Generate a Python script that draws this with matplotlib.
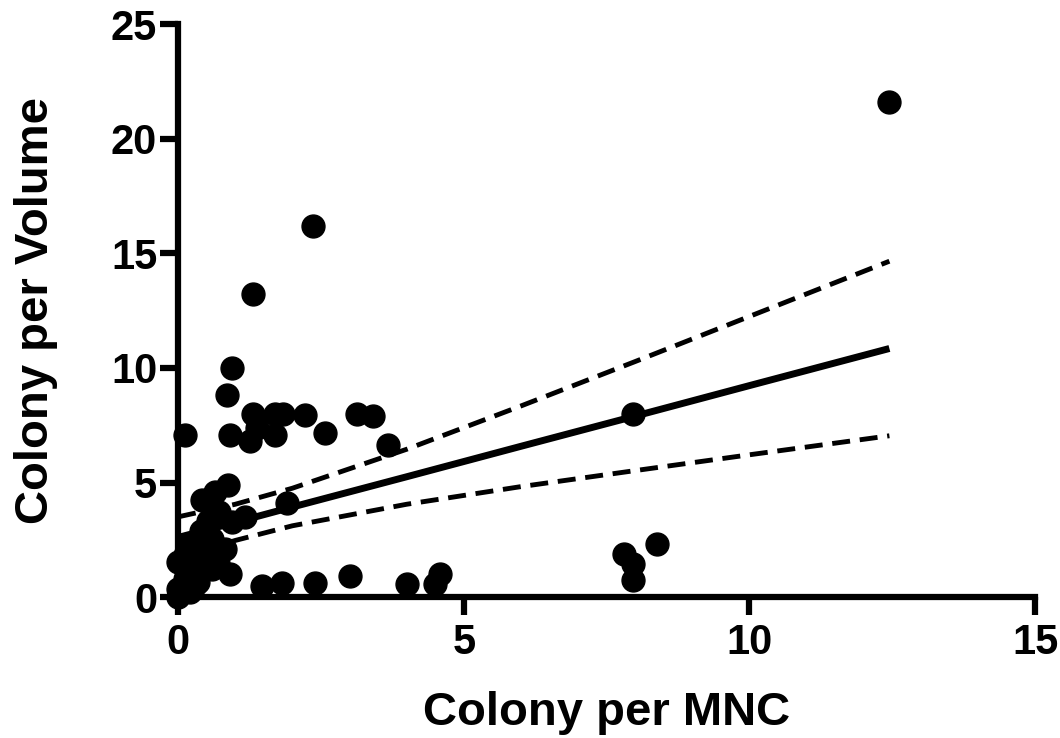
import numpy as np
import matplotlib
matplotlib.use("Agg")
import matplotlib.pyplot as plt

colony_per_mnc = [12.45, 2.37, 1.32, 0.94, 0.85, 1.32, 1.70, 1.84, 2.22, 3.13, 3.42,
                  0.12, 0.91, 1.26, 1.38, 1.70, 2.57, 3.68, 7.97, 7.80, 7.97, 7.97,
                  8.38, 0.88, 0.65, 0.41, 0.71, 1.17, 1.90, 0.36, 0.59, 0.82, 0.47,
                  0.12, 0.00, 0.59, 0.91, 0.12, 0.30, 0.00, 0.00, 0.35, 0.94, 0.53,
                  0.18, 0.70, 1.47, 1.82, 2.40, 3.01, 4.00, 4.50, 4.59, 0.25, 0.40, 0.20]
colony_per_volume = [21.6, 16.2, 13.25, 10.0, 8.8, 8.0, 8.0, 8.0, 7.96, 8.0, 7.9,
                     7.08, 7.08, 6.8, 7.4, 7.08, 7.15, 6.64, 7.97, 1.90, 1.46, 0.73,
                     2.33, 4.89, 4.6, 4.23, 3.72, 3.5, 4.09, 2.55, 2.55, 2.11, 1.82,
                     1.82, 1.53, 1.24, 1.02, 0.8, 0.51, 0.36, 0.0, 0.66, 3.28, 3.3,
                     2.3, 1.5, 0.5, 0.62, 0.62, 0.9, 0.55, 0.55, 1.0, 1.2, 2.9, 0.2]

# regression line and 95% confidence band
fit_x = [0, 1, 2, 4, 6, 8, 10, 12.45]
fit_y = [2.60, 3.26, 3.93, 5.25, 6.58, 7.90, 9.23, 10.85]
band_upper = [3.50, 4.05, 4.75, 6.45, 8.34, 10.28, 12.25, 14.66]
band_lower = [1.70, 2.47, 3.11, 4.05, 4.82, 5.52, 6.21, 7.04]

x_ticks = [0, 5, 10, 15]
y_ticks = [0, 5, 10, 15, 20, 25]

plt.rcParams['font.family'] = ['Liberation Sans', 'DejaVu Sans']
plt.rcParams['font.weight'] = 'bold'

fig = plt.figure(figsize=(10.6, 7.38), dpi=100)
ax = fig.add_axes([0.168, 0.191, 0.8085, 0.776])

ax.plot(colony_per_mnc, colony_per_volume, 'o', color='black', markersize=16.5,
        clip_on=False, zorder=3)
ax.plot(fit_x, fit_y, color='black', lw=5, solid_capstyle='butt', zorder=2)
l1, = ax.plot(fit_x, band_upper, color='black', lw=3.5, zorder=2)
l2, = ax.plot(fit_x, band_lower, color='black', lw=3.5, zorder=2)
for l in (l1, l2):
    l.set_dashes([3.7, 2.0])

ax.set_xlim(0, 15)
ax.set_ylim(0, 25)
ax.set_xticks(x_ticks)
ax.set_yticks(y_ticks)
for sp in ('top', 'right'):
    ax.spines[sp].set_visible(False)
for sp in ('left', 'bottom'):
    ax.spines[sp].set_linewidth(4.5)
ax.tick_params(axis='both', length=13, width=4.5, labelsize=30)
ax.tick_params(axis='x', pad=6)
ax.tick_params(axis='y', pad=2)
for lab in ax.get_xticklabels() + ax.get_yticklabels():
    lab.set_fontweight('bold')

ax.set_xlabel('Colony per MNC', fontsize=34, fontweight='bold', labelpad=20)
ax.set_ylabel('Colony per Volume', fontsize=34, fontweight='bold', labelpad=38)

fig.savefig('out.png', dpi=100)
